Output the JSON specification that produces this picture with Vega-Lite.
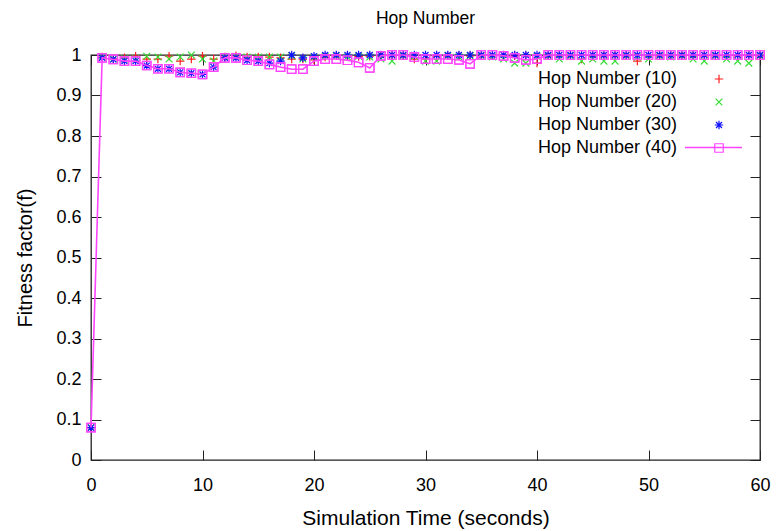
{
  "$schema": "https://vega.github.io/schema/vega-lite/v6.json",
  "autosize": {"type": "none"},
  "padding": {"left": 91, "top": 55, "right": 20, "bottom": 71},
  "width": 669,
  "height": 405,
  "background": "white",
  "title": {"text": "Hop Number", "fontSize": 17.5, "fontWeight": "normal", "font": "Liberation Sans", "color": "black", "offset": 19},
  "config": {
    "view": {"stroke": "#222", "strokeWidth": 1.3},
    "font": "Liberation Sans"
  },
  "datasets": {
    "hop": [
      {"t":0,"s":"Hop Number (10)","f":0.08},{"t":1,"s":"Hop Number (10)","f":0.995},{"t":2,"s":"Hop Number (10)","f":0.99},{"t":3,"s":"Hop Number (10)","f":0.993},{"t":4,"s":"Hop Number (10)","f":0.997},{"t":5,"s":"Hop Number (10)","f":0.99},{"t":6,"s":"Hop Number (10)","f":0.99},{"t":7,"s":"Hop Number (10)","f":0.997},{"t":8,"s":"Hop Number (10)","f":0.985},{"t":9,"s":"Hop Number (10)","f":0.99},{"t":10,"s":"Hop Number (10)","f":0.997},{"t":11,"s":"Hop Number (10)","f":0.99},{"t":12,"s":"Hop Number (10)","f":0.995},{"t":13,"s":"Hop Number (10)","f":0.998},{"t":14,"s":"Hop Number (10)","f":0.995},{"t":15,"s":"Hop Number (10)","f":0.995},{"t":16,"s":"Hop Number (10)","f":0.995},{"t":17,"s":"Hop Number (10)","f":0.993},{"t":18,"s":"Hop Number (10)","f":0.99},{"t":19,"s":"Hop Number (10)","f":0.99},{"t":20,"s":"Hop Number (10)","f":0.988},{"t":21,"s":"Hop Number (10)","f":0.995},{"t":22,"s":"Hop Number (10)","f":0.998},{"t":23,"s":"Hop Number (10)","f":0.997},{"t":24,"s":"Hop Number (10)","f":0.996},{"t":25,"s":"Hop Number (10)","f":0.997},{"t":26,"s":"Hop Number (10)","f":0.998},{"t":27,"s":"Hop Number (10)","f":0.998},{"t":28,"s":"Hop Number (10)","f":0.998},{"t":29,"s":"Hop Number (10)","f":0.99},{"t":30,"s":"Hop Number (10)","f":0.99},{"t":31,"s":"Hop Number (10)","f":0.997},{"t":32,"s":"Hop Number (10)","f":0.998},{"t":33,"s":"Hop Number (10)","f":0.998},{"t":34,"s":"Hop Number (10)","f":0.998},{"t":35,"s":"Hop Number (10)","f":0.998},{"t":36,"s":"Hop Number (10)","f":0.998},{"t":37,"s":"Hop Number (10)","f":0.998},{"t":38,"s":"Hop Number (10)","f":0.998},{"t":39,"s":"Hop Number (10)","f":0.998},{"t":40,"s":"Hop Number (10)","f":0.98},{"t":41,"s":"Hop Number (10)","f":0.998},{"t":42,"s":"Hop Number (10)","f":0.998},{"t":43,"s":"Hop Number (10)","f":0.998},{"t":44,"s":"Hop Number (10)","f":0.99},{"t":45,"s":"Hop Number (10)","f":0.997},{"t":46,"s":"Hop Number (10)","f":0.998},{"t":47,"s":"Hop Number (10)","f":0.998},{"t":48,"s":"Hop Number (10)","f":0.998},{"t":49,"s":"Hop Number (10)","f":0.985},{"t":50,"s":"Hop Number (10)","f":0.998},{"t":51,"s":"Hop Number (10)","f":0.998},{"t":52,"s":"Hop Number (10)","f":0.998},{"t":53,"s":"Hop Number (10)","f":0.998},{"t":54,"s":"Hop Number (10)","f":0.998},{"t":55,"s":"Hop Number (10)","f":0.998},{"t":56,"s":"Hop Number (10)","f":0.998},{"t":57,"s":"Hop Number (10)","f":0.998},{"t":58,"s":"Hop Number (10)","f":0.998},{"t":59,"s":"Hop Number (10)","f":0.998},{"t":60,"s":"Hop Number (10)","f":0.998},
      {"t":0,"s":"Hop Number (20)","f":0.08},{"t":1,"s":"Hop Number (20)","f":0.995},{"t":2,"s":"Hop Number (20)","f":0.99},{"t":3,"s":"Hop Number (20)","f":0.99},{"t":4,"s":"Hop Number (20)","f":0.99},{"t":5,"s":"Hop Number (20)","f":0.997},{"t":6,"s":"Hop Number (20)","f":0.995},{"t":7,"s":"Hop Number (20)","f":0.99},{"t":8,"s":"Hop Number (20)","f":0.995},{"t":9,"s":"Hop Number (20)","f":1.0},{"t":10,"s":"Hop Number (20)","f":0.99},{"t":11,"s":"Hop Number (20)","f":0.985},{"t":12,"s":"Hop Number (20)","f":0.995},{"t":13,"s":"Hop Number (20)","f":0.997},{"t":14,"s":"Hop Number (20)","f":0.995},{"t":15,"s":"Hop Number (20)","f":0.995},{"t":16,"s":"Hop Number (20)","f":0.995},{"t":17,"s":"Hop Number (20)","f":0.995},{"t":18,"s":"Hop Number (20)","f":0.998},{"t":19,"s":"Hop Number (20)","f":0.99},{"t":20,"s":"Hop Number (20)","f":0.995},{"t":21,"s":"Hop Number (20)","f":0.997},{"t":22,"s":"Hop Number (20)","f":0.998},{"t":23,"s":"Hop Number (20)","f":0.995},{"t":24,"s":"Hop Number (20)","f":0.997},{"t":25,"s":"Hop Number (20)","f":0.995},{"t":26,"s":"Hop Number (20)","f":0.99},{"t":27,"s":"Hop Number (20)","f":0.985},{"t":28,"s":"Hop Number (20)","f":0.998},{"t":29,"s":"Hop Number (20)","f":0.998},{"t":30,"s":"Hop Number (20)","f":0.985},{"t":31,"s":"Hop Number (20)","f":0.985},{"t":32,"s":"Hop Number (20)","f":0.998},{"t":33,"s":"Hop Number (20)","f":0.995},{"t":34,"s":"Hop Number (20)","f":0.998},{"t":35,"s":"Hop Number (20)","f":0.998},{"t":36,"s":"Hop Number (20)","f":0.995},{"t":37,"s":"Hop Number (20)","f":0.99},{"t":38,"s":"Hop Number (20)","f":0.98},{"t":39,"s":"Hop Number (20)","f":0.98},{"t":40,"s":"Hop Number (20)","f":0.997},{"t":41,"s":"Hop Number (20)","f":0.998},{"t":42,"s":"Hop Number (20)","f":0.99},{"t":43,"s":"Hop Number (20)","f":0.998},{"t":44,"s":"Hop Number (20)","f":0.985},{"t":45,"s":"Hop Number (20)","f":0.99},{"t":46,"s":"Hop Number (20)","f":0.985},{"t":47,"s":"Hop Number (20)","f":0.985},{"t":48,"s":"Hop Number (20)","f":0.998},{"t":49,"s":"Hop Number (20)","f":0.995},{"t":50,"s":"Hop Number (20)","f":0.99},{"t":51,"s":"Hop Number (20)","f":0.998},{"t":52,"s":"Hop Number (20)","f":0.995},{"t":53,"s":"Hop Number (20)","f":0.998},{"t":54,"s":"Hop Number (20)","f":0.99},{"t":55,"s":"Hop Number (20)","f":0.985},{"t":56,"s":"Hop Number (20)","f":0.998},{"t":57,"s":"Hop Number (20)","f":0.99},{"t":58,"s":"Hop Number (20)","f":0.985},{"t":59,"s":"Hop Number (20)","f":0.98},{"t":60,"s":"Hop Number (20)","f":0.998},
      {"t":0,"s":"Hop Number (30)","f":0.08},{"t":1,"s":"Hop Number (30)","f":0.993},{"t":2,"s":"Hop Number (30)","f":0.989},{"t":3,"s":"Hop Number (30)","f":0.985},{"t":4,"s":"Hop Number (30)","f":0.985},{"t":5,"s":"Hop Number (30)","f":0.974},{"t":6,"s":"Hop Number (30)","f":0.966},{"t":7,"s":"Hop Number (30)","f":0.966},{"t":8,"s":"Hop Number (30)","f":0.957},{"t":9,"s":"Hop Number (30)","f":0.955},{"t":10,"s":"Hop Number (30)","f":0.952},{"t":11,"s":"Hop Number (30)","f":0.97},{"t":12,"s":"Hop Number (30)","f":0.993},{"t":13,"s":"Hop Number (30)","f":0.993},{"t":14,"s":"Hop Number (30)","f":0.987},{"t":15,"s":"Hop Number (30)","f":0.985},{"t":16,"s":"Hop Number (30)","f":0.98},{"t":17,"s":"Hop Number (30)","f":0.985},{"t":18,"s":"Hop Number (30)","f":1.0},{"t":19,"s":"Hop Number (30)","f":0.993},{"t":20,"s":"Hop Number (30)","f":0.997},{"t":21,"s":"Hop Number (30)","f":1.0},{"t":22,"s":"Hop Number (30)","f":1.0},{"t":23,"s":"Hop Number (30)","f":1.0},{"t":24,"s":"Hop Number (30)","f":1.0},{"t":25,"s":"Hop Number (30)","f":1.0},{"t":26,"s":"Hop Number (30)","f":1.0},{"t":27,"s":"Hop Number (30)","f":1.0},{"t":28,"s":"Hop Number (30)","f":1.0},{"t":29,"s":"Hop Number (30)","f":1.0},{"t":30,"s":"Hop Number (30)","f":1.0},{"t":31,"s":"Hop Number (30)","f":1.0},{"t":32,"s":"Hop Number (30)","f":1.0},{"t":33,"s":"Hop Number (30)","f":1.0},{"t":34,"s":"Hop Number (30)","f":1.0},{"t":35,"s":"Hop Number (30)","f":1.0},{"t":36,"s":"Hop Number (30)","f":1.0},{"t":37,"s":"Hop Number (30)","f":1.0},{"t":38,"s":"Hop Number (30)","f":1.0},{"t":39,"s":"Hop Number (30)","f":1.0},{"t":40,"s":"Hop Number (30)","f":1.0},{"t":41,"s":"Hop Number (30)","f":1.0},{"t":42,"s":"Hop Number (30)","f":1.0},{"t":43,"s":"Hop Number (30)","f":1.0},{"t":44,"s":"Hop Number (30)","f":1.0},{"t":45,"s":"Hop Number (30)","f":1.0},{"t":46,"s":"Hop Number (30)","f":1.0},{"t":47,"s":"Hop Number (30)","f":1.0},{"t":48,"s":"Hop Number (30)","f":1.0},{"t":49,"s":"Hop Number (30)","f":1.0},{"t":50,"s":"Hop Number (30)","f":1.0},{"t":51,"s":"Hop Number (30)","f":1.0},{"t":52,"s":"Hop Number (30)","f":1.0},{"t":53,"s":"Hop Number (30)","f":1.0},{"t":54,"s":"Hop Number (30)","f":1.0},{"t":55,"s":"Hop Number (30)","f":1.0},{"t":56,"s":"Hop Number (30)","f":1.0},{"t":57,"s":"Hop Number (30)","f":1.0},{"t":58,"s":"Hop Number (30)","f":1.0},{"t":59,"s":"Hop Number (30)","f":1.0},{"t":60,"s":"Hop Number (30)","f":1.0},
      {"t":0,"s":"Hop Number (40)","f":0.08},{"t":1,"s":"Hop Number (40)","f":0.993},{"t":2,"s":"Hop Number (40)","f":0.989},{"t":3,"s":"Hop Number (40)","f":0.985},{"t":4,"s":"Hop Number (40)","f":0.985},{"t":5,"s":"Hop Number (40)","f":0.974},{"t":6,"s":"Hop Number (40)","f":0.966},{"t":7,"s":"Hop Number (40)","f":0.966},{"t":8,"s":"Hop Number (40)","f":0.957},{"t":9,"s":"Hop Number (40)","f":0.955},{"t":10,"s":"Hop Number (40)","f":0.952},{"t":11,"s":"Hop Number (40)","f":0.97},{"t":12,"s":"Hop Number (40)","f":0.993},{"t":13,"s":"Hop Number (40)","f":0.993},{"t":14,"s":"Hop Number (40)","f":0.987},{"t":15,"s":"Hop Number (40)","f":0.985},{"t":16,"s":"Hop Number (40)","f":0.977},{"t":17,"s":"Hop Number (40)","f":0.97},{"t":18,"s":"Hop Number (40)","f":0.965},{"t":19,"s":"Hop Number (40)","f":0.965},{"t":20,"s":"Hop Number (40)","f":0.985},{"t":21,"s":"Hop Number (40)","f":0.99},{"t":22,"s":"Hop Number (40)","f":0.99},{"t":23,"s":"Hop Number (40)","f":0.987},{"t":24,"s":"Hop Number (40)","f":0.982},{"t":25,"s":"Hop Number (40)","f":0.968},{"t":26,"s":"Hop Number (40)","f":0.998},{"t":27,"s":"Hop Number (40)","f":1.0},{"t":28,"s":"Hop Number (40)","f":1.0},{"t":29,"s":"Hop Number (40)","f":0.995},{"t":30,"s":"Hop Number (40)","f":0.99},{"t":31,"s":"Hop Number (40)","f":0.99},{"t":32,"s":"Hop Number (40)","f":0.99},{"t":33,"s":"Hop Number (40)","f":0.988},{"t":34,"s":"Hop Number (40)","f":0.978},{"t":35,"s":"Hop Number (40)","f":1.0},{"t":36,"s":"Hop Number (40)","f":1.0},{"t":37,"s":"Hop Number (40)","f":0.998},{"t":38,"s":"Hop Number (40)","f":0.993},{"t":39,"s":"Hop Number (40)","f":0.988},{"t":40,"s":"Hop Number (40)","f":0.99},{"t":41,"s":"Hop Number (40)","f":1.0},{"t":42,"s":"Hop Number (40)","f":1.0},{"t":43,"s":"Hop Number (40)","f":1.0},{"t":44,"s":"Hop Number (40)","f":1.0},{"t":45,"s":"Hop Number (40)","f":1.0},{"t":46,"s":"Hop Number (40)","f":1.0},{"t":47,"s":"Hop Number (40)","f":1.0},{"t":48,"s":"Hop Number (40)","f":1.0},{"t":49,"s":"Hop Number (40)","f":1.0},{"t":50,"s":"Hop Number (40)","f":1.0},{"t":51,"s":"Hop Number (40)","f":1.0},{"t":52,"s":"Hop Number (40)","f":1.0},{"t":53,"s":"Hop Number (40)","f":1.0},{"t":54,"s":"Hop Number (40)","f":1.0},{"t":55,"s":"Hop Number (40)","f":1.0},{"t":56,"s":"Hop Number (40)","f":1.0},{"t":57,"s":"Hop Number (40)","f":1.0},{"t":58,"s":"Hop Number (40)","f":1.0},{"t":59,"s":"Hop Number (40)","f":1.0},{"t":60,"s":"Hop Number (40)","f":1.0}
    ]
  },
  "data": {"name": "hop"},
  "layer": [
    {
      "mark": {"type": "point", "filled": false, "strokeWidth": 1.2, "size": 72, "opacity": 1},
      "encoding": {
        "x": {"field": "t", "type": "quantitative", "scale": {"domain": [0, 60], "nice": false, "zero": false},
          "axis": {"orient": "bottom", "values": [0,10,20,30,40,50,60], "labelFlush": false, "tickSize": -10, "tickColor": "#222", "domain": false, "grid": false,
            "labelFont": "Liberation Sans", "labelFontSize": 18, "labelColor": "black", "labelPadding": 26,
            "title": "Simulation Time (seconds)", "titleFont": "Liberation Sans", "titleFontSize": 21, "titleFontWeight": "normal", "titleColor": "black", "titlePadding": 13}},
        "y": {"field": "f", "type": "quantitative", "scale": {"domain": [0, 1], "nice": false, "zero": false},
          "axis": {"orient": "left", "values": [0,0.1,0.2,0.3,0.4,0.5,0.6,0.7,0.8,0.9,1], "format": ".1~f", "tickSize": -10, "tickColor": "#222", "domain": false, "grid": false,
            "labelFont": "Liberation Sans", "labelFontSize": 18, "labelColor": "black", "labelPadding": 20,
            "title": "Fitness factor(f)", "titleFont": "Liberation Sans", "titleFontSize": 20, "titleFontWeight": "normal", "titleColor": "black", "titlePadding": 20}},
        "color": {"field": "s", "type": "nominal",
          "scale": {"domain": ["Hop Number (10)", "Hop Number (20)", "Hop Number (30)", "Hop Number (40)"], "range": ["#ff2020", "#33dd33", "#1010ff", "#ff44ff"]},
          "legend": {"orient": "none", "legendX": 619, "legendY": 15, "title": null, "padding": 0,
            "labelFont": "Liberation Sans", "labelFontSize": 18, "labelColor": "black", "labelAlign": "right", "labelOffset": -51,
            "rowPadding": 5, "symbolSize": 72, "symbolStrokeWidth": 1.2}},
        "shape": {"field": "s", "type": "nominal",
          "scale": {"domain": ["Hop Number (10)", "Hop Number (20)", "Hop Number (30)", "Hop Number (40)"], "range": ["M-1,0H1M0,-1V1", "M-0.8,-0.8L0.8,0.8M-0.8,0.8L0.8,-0.8", "M-1,0H1M0,-1V1M-0.7,-0.7L0.7,0.7M-0.7,0.7L0.7,-0.7", "M-1,-1H1V1H-1Z"]},
          "legend": null}
      }
    },
    {
      "transform": [{"filter": "datum.s === 'Hop Number (40)'"}],
      "mark": {"type": "line", "color": "#ff44ff", "strokeWidth": 1.6},
      "encoding": {
        "x": {"field": "t", "type": "quantitative", "axis": {"orient": "top", "values": [0,10,20,30,40,50,60], "tickSize": -10, "tickColor": "#222", "domain": false, "labels": false, "title": null, "grid": false}},
        "y": {"field": "f", "type": "quantitative", "axis": {"orient": "right", "values": [0,0.1,0.2,0.3,0.4,0.5,0.6,0.7,0.8,0.9,1], "tickSize": -10, "tickColor": "#222", "domain": false, "labels": false, "title": null, "grid": false}},
        "strokeDash": {"field": "s", "type": "nominal", "scale": {"domain": ["Hop Number (40)"], "range": [[1, 0]]},
          "legend": {"orient": "none", "legendX": 593, "legendY": 63, "title": null, "padding": 0, "symbolType": "stroke", "symbolSize": 3249,
            "symbolStrokeWidth": 1.6, "symbolStrokeColor": "#ff44ff", "labelExpr": "''", "labelFontSize": 1, "labelOffset": 0}}
      }
    },
    {
      "transform": [{"filter": "datum.s === 'Hop Number (40)'"}],
      "mark": {"type": "point", "filled": false, "shape": "M-1,-1H1V1H-1Z", "size": 72, "strokeWidth": 1.2, "color": "#ff44ff", "opacity": 1},
      "encoding": {
        "x": {"field": "t", "type": "quantitative", "axis": null},
        "y": {"field": "f", "type": "quantitative", "axis": null}
      }
    }
  ],
  "resolve": {"axis": {"x": "independent", "y": "independent"}}
}
